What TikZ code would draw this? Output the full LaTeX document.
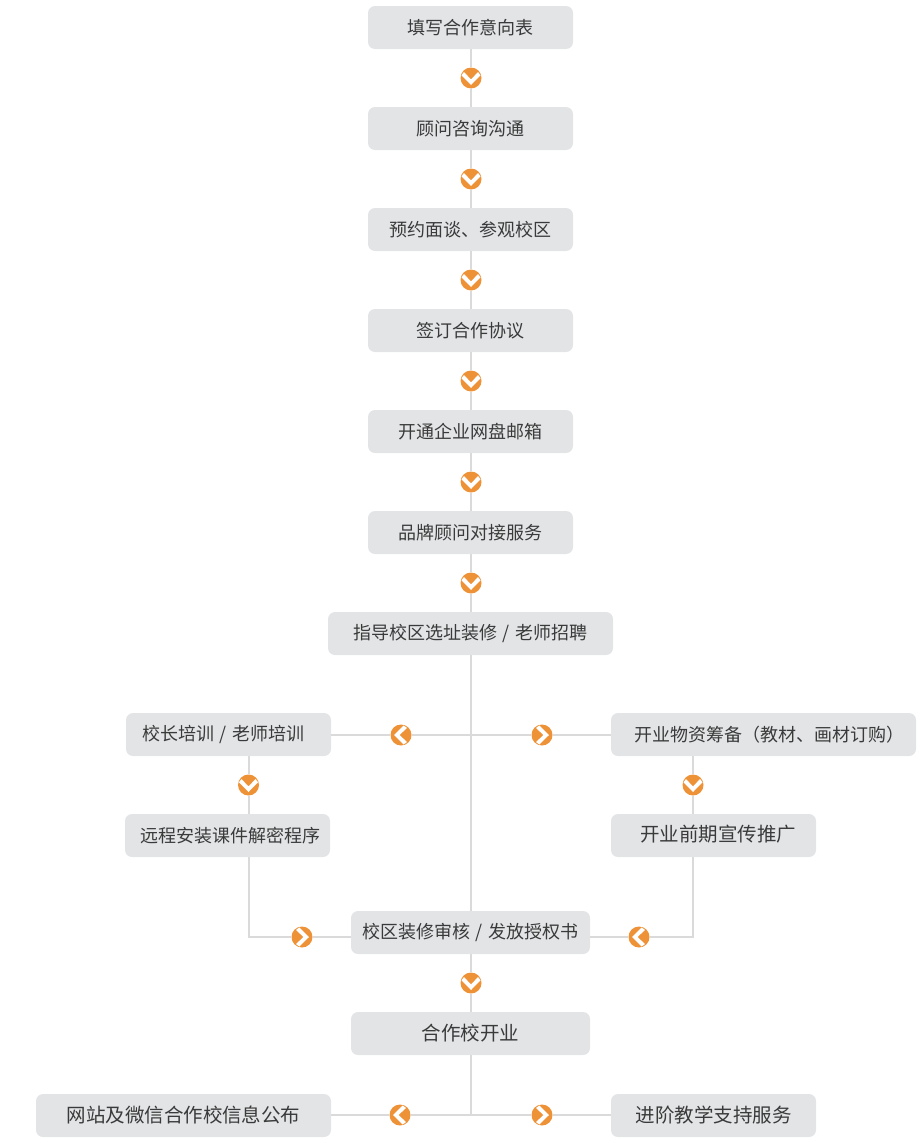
\documentclass[tikz,border=0pt]{standalone}
\usepackage{fontspec}
\setmainfont{Noto Sans CJK SC}
\definecolor{stagegray}{HTML}{E3E4E6}
\definecolor{linkgray}{HTML}{DADADA}
\definecolor{badgeorange}{HTML}{EE9238}
\definecolor{stagetext}{HTML}{3A3A3A}
\newcommand{\slashgap}{\hspace{1.2pt} / \hspace{1.2pt}}
\begin{document}
\begin{tikzpicture}[x=1pt, y=-1pt,
    stage/.style={fill=stagegray, rounded corners=7pt, shape=rectangle, inner sep=0pt, minimum height=43pt, minimum width=#1, text=stagetext, font=\fontsize{18}{20}\selectfont},
    bigstage/.style={stage=#1, font=\fontsize{19.5}{22}\selectfont},
    badge/.style={fill=badgeorange, shape=circle, inner sep=0pt, minimum size=21pt, rotate=#1, path picture={
        \fill[white] (-9.5,-2.7) -- (-7,-6) -- (0,1.5) -- (7,-6) -- (9.5,-2.7) -- (0,7) -- cycle;}},
    link/.style={draw=linkgray, line width=2pt}]

    \useasboundingbox (0,0) rectangle (922,1143);

    % main column
    \node[stage=205pt] (form) at (470.5,27.5) {填写合作意向表};
    \node[stage=205pt] (consult) at (470.5,128.5) {顾问咨询沟通};
    \node[stage=205pt] (visit) at (470.5,229.5) {预约面谈、参观校区};
    \node[stage=205pt] (sign) at (470.5,330.5) {签订合作协议};
    \node[stage=205pt] (mail) at (470.5,431.5) {开通企业网盘邮箱};
    \node[stage=205pt] (brand) at (470.5,532.5) {品牌顾问对接服务};
    \node[stage=285pt] (guide) at (470.5,633.5) {指导校区选址装修\slashgap 老师招聘};

    \node[badge=0] (b1) at (471,78) {};
    \node[badge=0] (b2) at (471,179) {};
    \node[badge=0] (b3) at (471,280) {};
    \node[badge=0] (b4) at (471,381) {};
    \node[badge=0] (b5) at (471,482) {};
    \node[badge=0] (b6) at (471,583) {};

    % branches
    \node[stage=205pt] (train) at (228.5,734.5) {\hspace{-10pt}校长培训\slashgap 老师培训};
    \node[stage=205pt] (remote) at (227.5,835.5) {\hspace{5pt}远程安装课件解密程序};
    \node[stage=305pt] (goods) at (763.5,734.5) {\hspace{12pt}开业物资筹备（教材、画材订购）};
    \node[bigstage=205pt] (promo) at (713.5,835.5) {\hspace{9pt}\raisebox{4pt}{开业前期宣传推广}};
    \node[stage=239pt] (audit) at (470.5,932.5) {校区装修审核\slashgap 发放授权书};
    \node[bigstage=239pt] (open) at (470.5,1033.5) {合作校开业};
    \node[bigstage=295pt] (site) at (183.5,1115.5) {网站及微信合作校信息公布};
    \node[bigstage=205pt] (adv) at (713.5,1115.5) {进阶教学支持服务};

    \node[badge=-90] (bl) at (401,735) {};
    \node[badge=90] (br) at (542,735) {};
    \node[badge=0] (bt) at (248.5,785) {};
    \node[badge=0] (bg) at (693,785) {};
    \node[badge=90] (ba) at (302,937) {};
    \node[badge=-90] (bp) at (639,937) {};
    \node[badge=0] (bo) at (471,983) {};
    \node[badge=-90] (bs) at (400,1115) {};
    \node[badge=90] (bv) at (542,1115) {};

    \coordinate (hubone) at (471,735);
    \coordinate (hubtwo) at (471,1115);

    \draw[link] (b1 |- form.south) -- (b1) -- (b1 |- consult.north);
    \draw[link] (b2 |- consult.south) -- (b2) -- (b2 |- visit.north);
    \draw[link] (b3 |- visit.south) -- (b3) -- (b3 |- sign.north);
    \draw[link] (b4 |- sign.south) -- (b4) -- (b4 |- mail.north);
    \draw[link] (b5 |- mail.south) -- (b5) -- (b5 |- brand.north);
    \draw[link] (b6 |- brand.south) -- (b6) -- (b6 |- guide.north);
    \draw[link] (hubone |- guide.south) -- (hubone |- audit.north);
    \draw[link] (hubone) -- (bl) -- (train.east |- bl);
    \draw[link] (hubone) -- (br) -- (goods.west |- br);
    \draw[link] (bt |- train.south) -- (bt) -- (bt |- remote.north);
    \draw[link] (bg |- goods.south) -- (bg) -- (bg |- promo.north);
    \draw[link] (bt |- remote.south) -- (bt |- ba) -- (ba) -- (audit.west |- ba);
    \draw[link] (bg |- promo.south) -- (bg |- bp) -- (bp) -- (audit.east |- bp);
    \draw[link] (bo |- audit.south) -- (bo) -- (bo |- open.north);
    \draw[link] (hubtwo |- open.south) -- (hubtwo);
    \draw[link] (hubtwo) -- (bs) -- (site.east |- bs);
    \draw[link] (hubtwo) -- (bv) -- (adv.west |- bv);
\end{tikzpicture}
\end{document}
